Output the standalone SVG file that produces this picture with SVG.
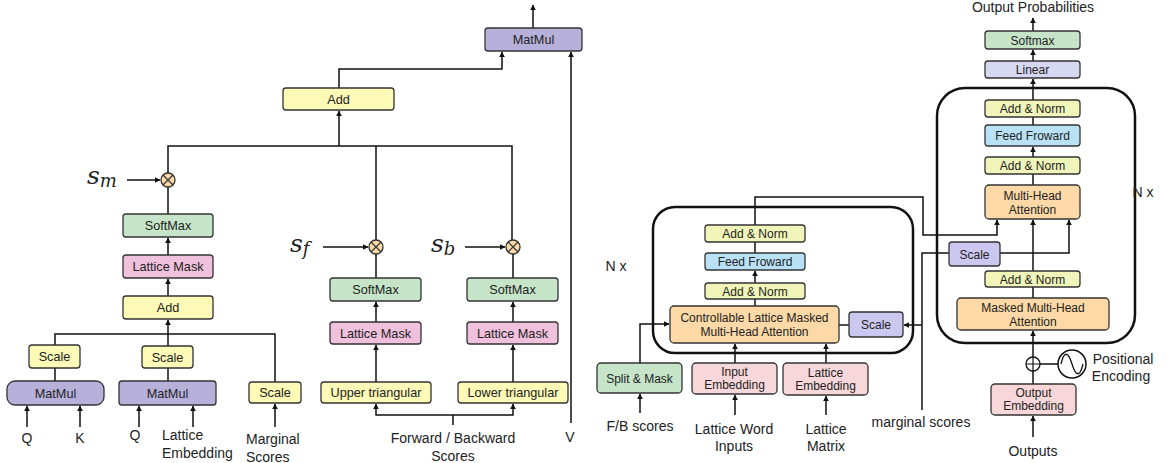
<svg xmlns="http://www.w3.org/2000/svg" width="1169" height="463" viewBox="0 0 1169 463">
<style>
.b{stroke:#333;stroke-width:1.3}
.yel{fill:#fdf9b6}
.an{fill:#f1f5b9}
.grn{fill:#c6e5c8}
.pnk{fill:#f0c1dc}
.lpk{fill:#f8d7da}
.pur{fill:#b7b0db}
.lpur{fill:#cbc7ef}
.lin{fill:#d6d8f1}
.blu{fill:#b9e1f5}
.org{fill:#fcd9a6}
.t{font-family:"Liberation Sans",Arial,sans-serif;font-size:12px;fill:#222;text-anchor:middle}
.tl{font-size:12.7px}
.l{font-family:"Liberation Sans",Arial,sans-serif;font-size:14px;fill:#222;text-anchor:middle}
.ls{text-anchor:start}
.m{font-family:"DejaVu Serif","Liberation Serif",serif;font-style:italic;fill:#222}
.c{fill:none;stroke:#111;stroke-width:1.5}
.a{fill:none;stroke:#111;stroke-width:1.5;marker-end:url(#ah)}
.big{fill:none;stroke:#111;stroke-width:2.5}
</style>
<defs>
<marker id="ah" viewBox="0 0 10 10" refX="9" refY="5" markerWidth="4" markerHeight="4" orient="auto" markerUnits="strokeWidth">
<path d="M0,0 L10,5 L0,10 z" fill="#111"/>
</marker>
</defs>
<rect width="1169" height="463" fill="#fff"/>

<!-- big containers -->
<rect class="big" x="653" y="207" width="260" height="146" rx="22"/>
<rect class="big" x="937" y="88" width="198" height="255" rx="28"/>

<g id="connectors">
<!-- left attention -->
<path class="a" d="M27,427 V406"/>
<path class="a" d="M80,427 V406"/>
<path class="a" d="M139,427 V406"/>
<path class="a" d="M193,427 V406"/>
<path class="a" d="M275,427 V404"/>
<path class="c" d="M55,381 V368 M55,345 V334 H275 V382"/>
<path class="c" d="M168,381 V368 M168,346 V334"/>
<path class="a" d="M168,334 V320"/>
<path class="a" d="M168,296 V279"/>
<path class="a" d="M168,255 V238"/>
<path class="c" d="M168,214 V187"/>
<path class="a" d="M127,180 H160"/>
<path class="c" d="M168,173 V146 H512 V240"/>
<path class="c" d="M376,146 V240"/>
<path class="a" d="M339,146 V111"/>
<path class="a" d="M339,88 V69 H502 V52"/>
<path class="a" d="M533,28 V5"/>
<path class="a" d="M571,423 V52"/>
<!-- forward/backward -->
<path class="a" d="M323,247 H368"/>
<path class="a" d="M465,247 H505"/>
<path class="c" d="M376,278 V254 M513,278 V254"/>
<path class="a" d="M376,322 V302"/>
<path class="a" d="M513,322 V302"/>
<path class="a" d="M376,382 V345"/>
<path class="a" d="M513,382 V345"/>
<path class="c" d="M453,425 V415"/>
<path class="a" d="M453,415 H376 V404"/>
<path class="a" d="M453,415 H513 V404"/>
<!-- encoder -->
<path class="a" d="M640,363 V324 H669"/>
<path class="a" d="M640,413 V394"/>
<path class="a" d="M735,363 V344"/>
<path class="a" d="M735,415 V395"/>
<path class="a" d="M826,363 V344"/>
<path class="a" d="M826,415 V396"/>
<path class="c" d="M755,306 V299"/>
<path class="a" d="M755,283 V271"/>
<path class="c" d="M755,253 V242"/>
<path class="a" d="M755,225 V197 H923 V235 H997 V220"/>
<path class="c" d="M839,325 H849"/>
<path class="c" d="M922,410 V253 H949"/>
<path class="a" d="M922,325 H904"/>
<path class="a" d="M1000,253 H1069 V220"/>
<!-- decoder -->
<path class="a" d="M1033,271 V220"/>
<path class="c" d="M1033,298 V287"/>
<path class="c" d="M1033,384 V371"/>
<path class="a" d="M1033,357 V331"/>
<path class="c" d="M1040,364 H1058"/>
<path class="a" d="M1033,437 V416"/>
<path class="c" d="M1033,185 V174"/>
<path class="a" d="M1033,157 V147"/>
<path class="c" d="M1033,125 V117"/>
<path class="a" d="M1033,100 V79"/>
<path class="a" d="M1033,61 V50"/>
<path class="a" d="M1033,31 V18"/>
</g>

<!-- left attention nodes -->
<g id="matmul1"><rect class="b pur" x="7" y="381" width="97" height="24" rx="8"/><text class="t tl" x="55.5" y="397.5">MatMul</text></g>
<g id="matmul2"><rect class="b pur" x="119" y="381" width="97" height="24" rx="3"/><text class="t tl" x="167.5" y="397.5">MatMul</text></g>
<g id="scale1"><rect class="b yel" x="29" y="345" width="51" height="23" rx="3"/><text class="t tl" x="54.5" y="361">Scale</text></g>
<g id="scale2"><rect class="b yel" x="142" y="346" width="51" height="22" rx="3"/><text class="t tl" x="167.5" y="361.5">Scale</text></g>
<g id="scale3"><rect class="b yel" x="249" y="382" width="52" height="21" rx="3"/><text class="t tl" x="275" y="397">Scale</text></g>
<g id="add1"><rect class="b yel" x="123" y="296" width="90" height="23" rx="3"/><text class="t tl" x="168" y="312">Add</text></g>
<g id="mask1"><rect class="b pnk" x="123" y="255" width="90" height="23" rx="3"/><text class="t tl" x="168" y="271">Lattice Mask</text></g>
<g id="softmax1"><rect class="b grn" x="123" y="214" width="90" height="23" rx="3"/><text class="t tl" x="168" y="230">SoftMax</text></g>
<g id="mul_m"><circle class="b org" cx="168" cy="180" r="7"/><path d="M163,175 L173,185 M173,175 L163,185" stroke="#333" stroke-width="1.2"/></g>
<g id="sm"><text class="m" x="87" y="184" font-size="25">s<tspan font-size="18" dy="3">m</tspan></text></g>

<g id="softmax_f"><rect class="b grn" x="330" y="278" width="91" height="23" rx="3"/><text class="t tl" x="375.5" y="294">SoftMax</text></g>
<g id="mask_f"><rect class="b pnk" x="330" y="322" width="91" height="22" rx="3"/><text class="t tl" x="375.5" y="337.5">Lattice Mask</text></g>
<g id="upper"><rect class="b yel" x="321" y="382" width="110" height="21" rx="3"/><text class="t tl" x="376" y="397">Upper triangular</text></g>
<g id="mul_f"><circle class="b org" cx="376" cy="247" r="7"/><path d="M371,242 L381,252 M381,242 L371,252" stroke="#333" stroke-width="1.2"/></g>
<g id="sf"><text class="m" x="290" y="252" font-size="25">s<tspan font-size="18" dy="3">f</tspan></text></g>

<g id="softmax_b"><rect class="b grn" x="467" y="278" width="91" height="23" rx="3"/><text class="t tl" x="512.5" y="294">SoftMax</text></g>
<g id="mask_b"><rect class="b pnk" x="467" y="322" width="91" height="22" rx="3"/><text class="t tl" x="512.5" y="337.5">Lattice Mask</text></g>
<g id="lower"><rect class="b yel" x="458" y="382" width="110" height="21" rx="3"/><text class="t tl" x="513" y="397">Lower triangular</text></g>
<g id="mul_b"><circle class="b org" cx="513" cy="247" r="7"/><path d="M508,242 L518,252 M518,242 L508,252" stroke="#333" stroke-width="1.2"/></g>
<g id="sb"><text class="m" x="431" y="252" font-size="25">s<tspan font-size="18" dy="3">b</tspan></text></g>

<g id="add_top"><rect class="b yel" x="283" y="88" width="111" height="22" rx="3"/><text class="t tl" x="338.5" y="103.5">Add</text></g>
<g id="matmul_top"><rect class="b pur" x="485" y="28" width="97" height="23" rx="3"/><text class="t tl" x="533.5" y="44">MatMul</text></g>

<g id="labels_left">
<text class="l" x="27" y="443">Q</text>
<text class="l" x="80" y="443">K</text>
<text class="l" x="135" y="440">Q</text>
<text class="l ls" x="162" y="440">Lattice</text>
<text class="l ls" x="162" y="458">Embedding</text>
<text class="l ls" x="246" y="444">Marginal</text>
<text class="l ls" x="246" y="462">Scores</text>
<text class="l" x="453" y="443">Forward / Backward</text>
<text class="l" x="453" y="461">Scores</text>
<text class="l" x="570" y="442">V</text>
</g>

<!-- encoder -->
<g id="enc_addnorm2"><rect class="b an" x="705" y="225" width="100" height="17" rx="3"/><text class="t" x="755" y="238">Add &amp; Norm</text></g>
<g id="enc_ff"><rect class="b blu" x="705" y="253" width="100" height="17" rx="3"/><text class="t" x="755" y="266">Feed Froward</text></g>
<g id="enc_addnorm1"><rect class="b an" x="705" y="283" width="100" height="16" rx="3"/><text class="t" x="755" y="295.5">Add &amp; Norm</text></g>
<g id="enc_attn"><rect class="b org" x="670" y="306" width="169" height="37" rx="4"/><text class="t" x="754.5" y="322">Controllable Lattice Masked</text><text class="t" x="754.5" y="336">Multi-Head Attention</text></g>
<g id="enc_scale"><rect class="b lpur" x="849" y="312" width="54" height="25" rx="3"/><text class="t" x="876" y="329">Scale</text></g>
<g id="split"><rect class="b grn" x="597" y="363" width="85" height="30" rx="4"/><text class="t" x="639.5" y="382.5">Split &amp; Mask</text></g>
<g id="in_emb"><rect class="b lpk" x="692" y="363" width="85" height="31" rx="4"/><text class="t" x="734.5" y="376">Input</text><text class="t" x="734.5" y="389">Embedding</text></g>
<g id="lat_emb"><rect class="b lpk" x="783" y="363" width="85" height="32" rx="4"/><text class="t" x="825.5" y="377">Lattice</text><text class="t" x="825.5" y="390">Embedding</text></g>
<text class="l" x="616" y="271" font-size="13">N x</text>
<g id="labels_enc">
<text class="l" x="640" y="431" font-size="13.5">F/B scores</text>
<text class="l" x="734" y="434" font-size="13.5">Lattice Word</text>
<text class="l" x="734" y="451" font-size="13.5">Inputs</text>
<text class="l" x="826" y="434" font-size="13.5">Lattice</text>
<text class="l" x="826" y="451" font-size="13.5">Matrix</text>
<text class="l" x="921" y="427" font-size="13.5">marginal scores</text>
</g>

<!-- decoder -->
<g id="softmax_out"><rect class="b grn" x="985" y="31" width="95" height="18" rx="3"/><text class="t" x="1032.5" y="44.5">Softmax</text></g>
<g id="linear"><rect class="b lin" x="985" y="61" width="95" height="17" rx="3"/><text class="t" x="1032.5" y="74">Linear</text></g>
<g id="dec_addnorm3"><rect class="b an" x="985" y="100" width="95" height="17" rx="3"/><text class="t" x="1032.5" y="113">Add &amp; Norm</text></g>
<g id="dec_ff"><rect class="b blu" x="985" y="125" width="95" height="21" rx="3"/><text class="t" x="1032.5" y="140">Feed Froward</text></g>
<g id="dec_addnorm2"><rect class="b an" x="985" y="157" width="95" height="17" rx="3"/><text class="t" x="1032.5" y="170">Add &amp; Norm</text></g>
<g id="dec_mha"><rect class="b org" x="985" y="185" width="95" height="34" rx="4"/><text class="t" x="1032.5" y="200">Multi-Head</text><text class="t" x="1032.5" y="214">Attention</text></g>
<g id="dec_scale"><rect class="b lpur" x="949" y="242" width="51" height="24" rx="3"/><text class="t" x="974.5" y="258.5">Scale</text></g>
<g id="dec_addnorm1"><rect class="b an" x="985" y="271" width="95" height="16" rx="3"/><text class="t" x="1032.5" y="283.5">Add &amp; Norm</text></g>
<g id="dec_masked"><rect class="b org" x="957" y="298" width="152" height="32" rx="4"/><text class="t" x="1033" y="312">Masked Multi-Head</text><text class="t" x="1033" y="326">Attention</text></g>
<g id="plus"><circle cx="1033" cy="364" r="7" fill="#fff" stroke="#111" stroke-width="1.3"/><path d="M1026,364 H1040 M1033,357 V371" stroke="#111" stroke-width="1.2"/></g>
<g id="posenc"><circle cx="1072" cy="364" r="14" fill="#fff" stroke="#111" stroke-width="1.5"/><path d="M1061,364 C1064,351 1068,351 1072,364 C1076,377 1080,377 1083,364" fill="none" stroke="#111" stroke-width="1.3"/></g>
<g id="out_emb"><rect class="b lpk" x="991" y="384" width="85" height="31" rx="4"/><text class="t" x="1033.5" y="397">Output</text><text class="t" x="1033.5" y="410">Embedding</text></g>
<text class="l" x="1143" y="197" font-size="13">N x</text>
<g id="labels_dec">
<text class="l" x="1033" y="12" font-size="11">Output Probabilities</text>
<text class="l" x="1123" y="364" font-size="13.5">Positional</text>
<text class="l" x="1121" y="381" font-size="13.5">Encoding</text>
<text class="l" x="1033" y="456" font-size="13.5">Outputs</text>
</g>
</svg>
